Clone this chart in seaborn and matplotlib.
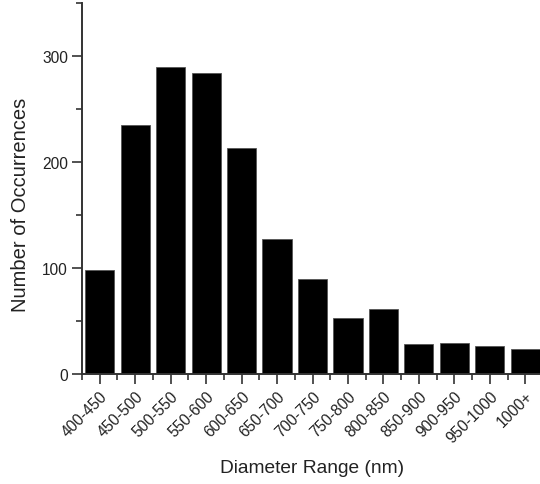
import matplotlib
matplotlib.use("Agg")
import matplotlib.pyplot as plt
import seaborn as sns
import pandas as pd
from matplotlib.ticker import MultipleLocator, FixedLocator

categories = ["400-450", "450-500", "500-550", "550-600", "600-650", "650-700",
              "700-750", "750-800", "800-850", "850-900", "900-950", "950-1000", "1000+"]
counts = [98, 235, 290, 284, 213, 127, 90, 53, 61, 28, 29, 26, 24]
y_ticks = [0, 100, 200, 300]

df = pd.DataFrame({"range": categories, "count": counts})

sns.set_theme(style="ticks")
plt.rcParams["font.family"] = ["Liberation Sans", "DejaVu Sans"]

fig = plt.figure(figsize=(5.4, 4.85), dpi=100)
ax = fig.add_axes([82 / 540, 1 - 375 / 485, 461 / 540, 371 / 485])

sns.barplot(data=df, x="range", y="count", color="black", width=0.82,
            edgecolor="#555555", linewidth=0.6, saturation=1, ax=ax)

ax.set_xlim(-0.5, len(categories) - 0.5)
ax.set_ylim(0, 350)
ax.set_yticks(y_ticks)
ax.yaxis.set_minor_locator(MultipleLocator(50))
ax.xaxis.set_minor_locator(FixedLocator([i - 0.5 for i in range(len(categories) + 1)]))

sns.despine(ax=ax)
for s in ["left", "bottom"]:
    ax.spines[s].set_linewidth(1.4)
    ax.spines[s].set_color("#333333")

ax.tick_params(axis="both", which="major", direction="out", length=7, width=1.2,
               color="#333333", labelsize=11.2, labelcolor="#222222")
ax.tick_params(axis="both", which="minor", direction="out", length=4, width=1.2,
               color="#333333")
ax.tick_params(axis="y", pad=3)
ax.tick_params(axis="x", pad=3)

ax.set_xticks(range(len(categories)))
ax.set_xticklabels(categories, rotation=45, ha="right", rotation_mode="anchor")

ax.set_xlabel("Diameter Range (nm)", fontsize=13.8, color="#222222")
ax.set_ylabel("Number of Occurrences", fontsize=14.5, color="#222222")
ax.xaxis.set_label_coords(0.5, -0.228)
ax.yaxis.set_label_coords(-0.112, 0.458)

fig.savefig("out.png", dpi=100)
